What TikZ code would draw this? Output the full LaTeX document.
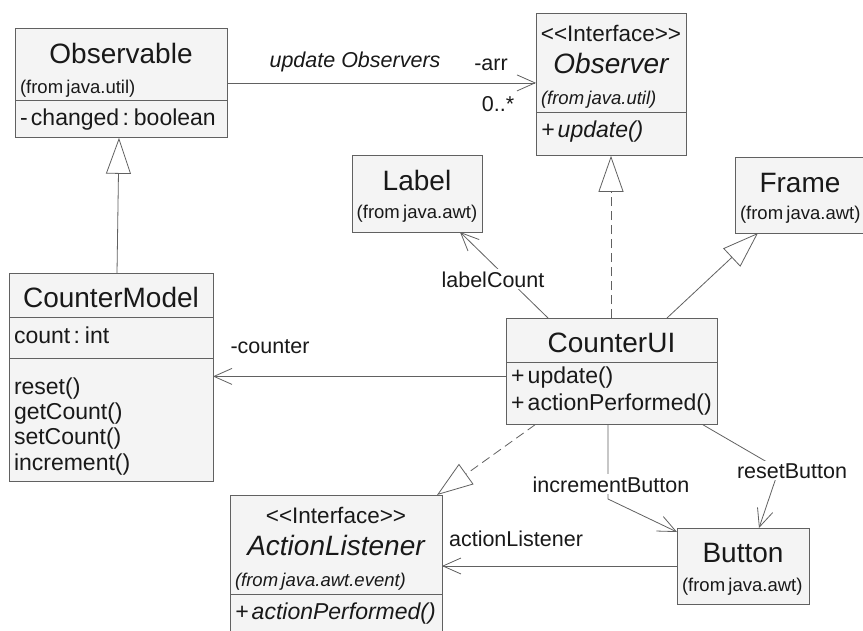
\documentclass[tikz,border=0pt]{standalone}
\usepackage{fontspec}
\setmainfont{Liberation Sans}
\usetikzlibrary{shapes,arrows.meta}

\definecolor{boxfill}{gray}{0.955}
\definecolor{edgegray}{gray}{0.38}
\definecolor{inkgray}{gray}{0.1}

\newcommand{\titlefont}{\fontsize{28}{0}\selectfont}
\newcommand{\memberfont}{\fontsize{23}{0}\selectfont}
\newcommand{\fromfont}{\fontsize{18.5}{0}\selectfont}
\newcommand{\stereofont}{\fontsize{22.5}{0}\selectfont}
% rows stack box on box, no extra glue
\newcommand{\tightrows}{\lineskip=0pt\lineskiplimit=0pt\baselineskip=0pt\noindent}
\newcommand{\rowat}[4]{\makebox[\hsize][#1]{\rule[-#3pt]{0pt}{\dimexpr #2pt + #3pt\relax}#4}}

\begin{document}
\begin{tikzpicture}[x=1pt,y=-1pt]
        \tikzstyle{umlbox}=[draw=edgegray, fill=boxfill, line width=0.9pt, inner xsep=5pt, inner ysep=0pt, outer sep=0pt, anchor=north west, align=left, text=inkgray]
        \tikzstyle{umlsplit}=[umlbox, rectangle split, rectangle split parts=2]
        \tikzstyle{assoc}=[draw=edgegray, line width=0.8pt, -{Straight Barb[length=18pt,width=16pt]}]
        \tikzstyle{inherit}=[draw=edgegray, line width=0.8pt, -{Triangle[open,length=36pt,width=25pt]}]
        \tikzstyle{realize}=[inherit, dash pattern=on 9pt off 5pt]
        \tikzstyle{rolelabel}=[font=\fontsize{21.5}{24}\selectfont, text=inkgray, inner sep=2pt, anchor=base]
        \fill[white] (0,0) rectangle (863,630);
        \useasboundingbox (0,0) rectangle (863,630);

        % classes
        \node[umlsplit, text width=202pt] (obs) at (15,28)
        {\tightrows\rowat{c}{35}{7}{\titlefont Observable}\\\rowat{l}{22}{7}{\fromfont (from java.util)}
        \nodepart{two}\tightrows\rowat{l}{24}{12}{\memberfont - changed : boolean}};
        \node[umlsplit, text width=140pt] (obsr) at (536,13)
        {\tightrows\rowat{c}{28}{6}{\stereofont <{}<Interface>{}>}\\\rowat{c}{26}{7}{\titlefont\itshape Observer}\\\rowat{l}{23}{8}{\fromfont\itshape (from java.util)}
        \nodepart{two}\tightrows\rowat{l}{24}{18}{\memberfont\itshape + update()}};
        \node[umlbox, text width=120pt] (lbl) at (352,155)
        {\tightrows\rowat{c}{35}{6}{\titlefont Label}\\\rowat{c}{21}{14}{\fromfont (from java.awt)}};
        \node[umlbox, text width=120pt] (frm) at (735,157)
        {\tightrows\rowat{c}{35}{6}{\titlefont Frame}\\\rowat{l}{20}{14}{\fromfont (from java.awt)}};
        \node[umlsplit, rectangle split parts=3, text width=194pt] (cm) at (9,273)
        {\tightrows\rowat{c}{34}{10}{\titlefont CounterModel}
        \nodepart{two}\tightrows\rowat{l}{25}{15}{\memberfont count : int}
        \nodepart{three}\tightrows\rowat{l}{35}{6}{\memberfont reset()}\\\rowat{l}{19}{6}{\memberfont getCount()}\\\rowat{l}{19}{6}{\memberfont setCount()}\\\rowat{l}{19}{11}{\memberfont increment()}};
        \node[umlsplit, text width=201pt] (ui) at (506,318)
        {\tightrows\rowat{c}{34}{10}{\titlefont CounterUI}
        \nodepart{two}\tightrows\rowat{l}{20}{6}{\memberfont + update()}\\\rowat{l}{20}{14}{\memberfont + actionPerformed()}};
        \node[umlsplit, text width=202pt] (al) at (230,495)
        {\tightrows\rowat{c}{28}{6}{\stereofont <{}<Interface>{}>}\\\rowat{c}{26}{7}{\titlefont\itshape ActionListener}\\\rowat{l}{23}{8}{\fromfont\itshape (from java.awt.event)}
        \nodepart{two}\tightrows\rowat{l}{24}{18}{\memberfont\itshape + actionPerformed()}};
        \node[umlbox, text width=122pt] (btn) at (677,528)
        {\tightrows\rowat{c}{34}{6}{\titlefont Button}\\\rowat{l}{22}{13}{\fromfont (from java.awt)}};

        % bends
        \coordinate (incbend) at (608,499);
        \coordinate (rstbend) at (779,469);

        % connectors
        \draw[assoc] (obs.east) -- (obs.east -| obsr.west);
        \draw[inherit] ([xshift=6pt]cm.north) -- ([xshift=-2pt]obs.south);
        \draw[assoc] ([yshift=-5pt]ui.west) -- ([yshift=-5pt]ui.west -| cm.east);
        \draw[assoc] ([xshift=42pt]ui.north west) -- ([xshift=-22pt]lbl.south east);
        \draw[realize] (ui.north -| obsr.south) -- (obsr.south);
        \draw[inherit] ([xshift=-50pt]ui.north east) -- ([xshift=23pt]frm.south west);
        \draw[realize] ([xshift=29pt]ui.south west) -- ([xshift=-5pt]al.north east);
        \draw[assoc] (btn.west) -- (btn.west -| al.east);
        \draw[assoc] ([xshift=102pt]ui.south west) -- (incbend) -- ([yshift=-4pt]btn.north west);
        \draw[assoc] ([xshift=-14pt]ui.south east) -- (rstbend) -- ([xshift=82pt]btn.north west);

        % labels
        \node[rolelabel] (updlbl) at (355,67) {\itshape update Observers};
        \node[rolelabel] (arrlbl) at (491,70) {-arr};
        \node[rolelabel] (multlbl) at (498,111) {0..*};
        \node[rolelabel, fill=white] (cntlbl) at (493,287) {labelCount};
        \node[rolelabel] (ctrlbl) at (270,353) {-counter};
        \node[rolelabel] (alslbl) at (516,546) {actionListener};
        \node[rolelabel, fill=white] (inclbl) at (611,492) {incrementButton};
        \node[rolelabel, fill=white] (rstlbl) at (792,478) {resetButton};
\end{tikzpicture}
\end{document}
